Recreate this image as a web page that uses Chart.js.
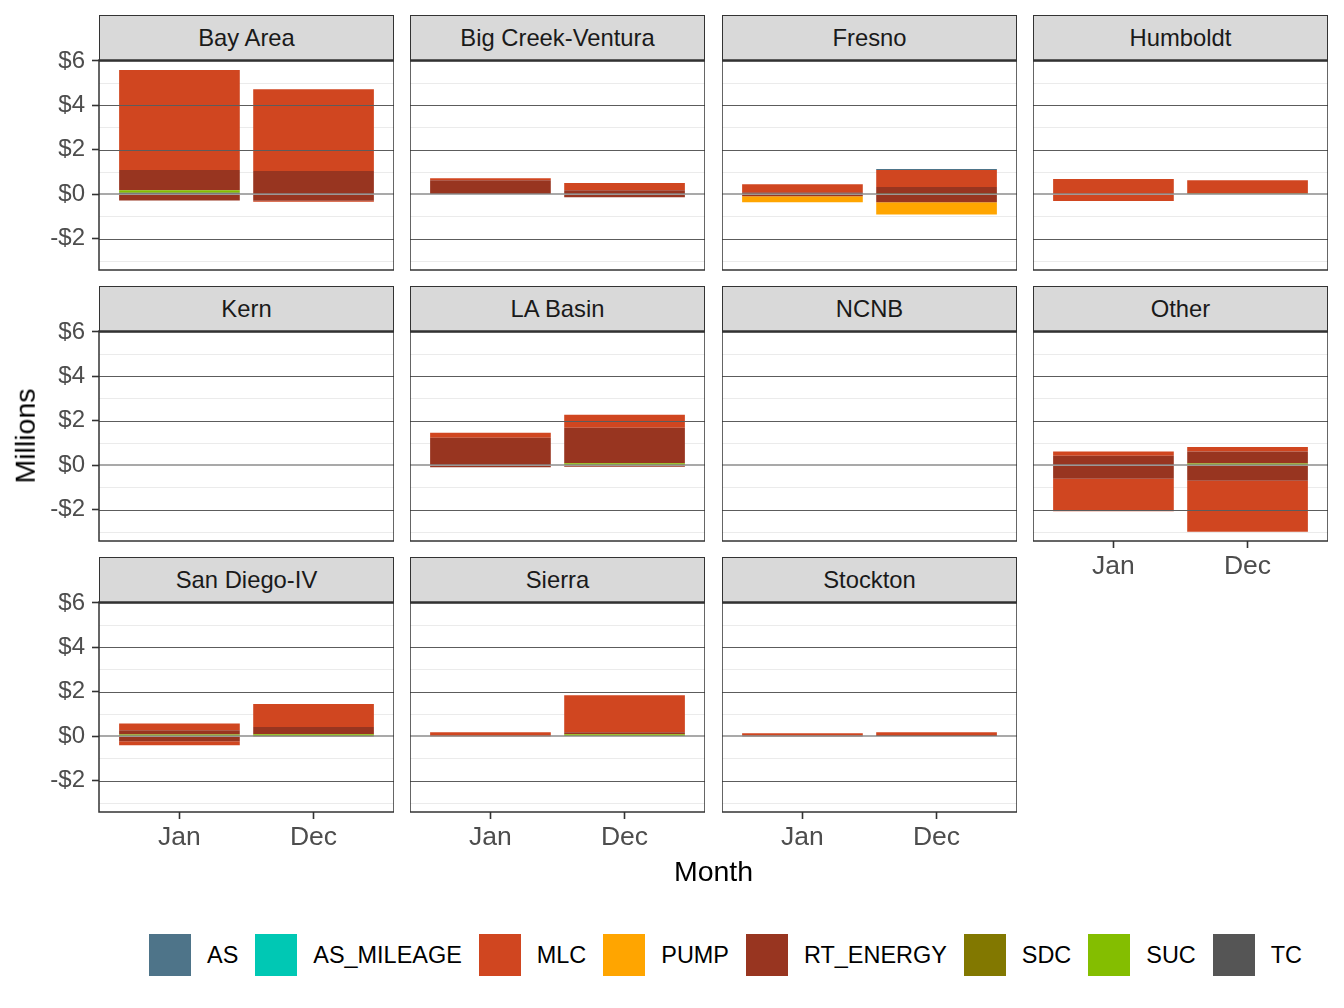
<!DOCTYPE html>
<html>
<head>
<meta charset="utf-8">
<script src="https://cdn.jsdelivr.net/npm/chart.js@4.4.1/dist/chart.umd.min.js"></script>
<style>
html,body{margin:0;padding:0;background:#fff;}
#root{position:relative;width:1344px;height:1008px;overflow:hidden;font-family:"Liberation Sans",Arial,Helvetica,sans-serif;}
.strip{position:absolute;box-sizing:border-box;background:#d9d9d9;border:1.5px solid #333;color:#1a1a1a;font-size:23.8px;display:flex;align-items:center;justify-content:center;}
canvas{position:absolute;}
.title{position:absolute;color:#000;font-size:28.5px;white-space:nowrap;line-height:1;transform:translate(-50%,-50%);}
#legend{position:absolute;left:149px;top:934px;height:42px;display:flex;align-items:center;font-size:23.45px;color:#000;white-space:nowrap;}
.key{width:42px;height:42px;margin-right:16px;flex:none;}
.lab{margin-right:17px;}
</style>
</head>
<body>
<div id="root"></div>
<script>
// ---------------- data (values in $ millions) ----------------
const regions = ['Bay Area','Big Creek-Ventura','Fresno','Humboldt','Kern','LA Basin','NCNB','Other','San Diego-IV','Sierra','Stockton'];
const months = ['Jan','Dec'];
const components = ['AS','AS_MILEAGE','MLC','PUMP','RT_ENERGY','SDC','SUC','TC'];
const yTickValues = [-3,-2,-1,0,1,2,3,4,5,6];
const yMajorTicks = [-2,0,2,4,6];

// per region: [Jan, Dec]; positive and negative parts of each component
const AS_pos         = [[0,0],[0,0],[0,0.04],[0,0],[0,0],[0,0],[0,0],[0,0],[0,0],[0,0],[0,0]];
const AS_MILEAGE_pos = [[0,0],[0,0],[0,0],[0,0],[0,0],[0,0],[0,0],[0,0],[0,0],[0,0],[0,0]];
const MLC_pos        = [[4.49,3.68],[0.09,0.32],[0.36,0.77],[0.69,0.60],[0,0],[0.23,0.59],[0,0],[0.19,0.21],[0.31,1.03],[0.18,1.67],[0.10,0.16]];
const MLC_neg        = [[0,-0.04],[0,0],[0,0],[-0.30,0],[0,0],[0,0],[0,0],[-1.46,-2.29],[-0.18,0],[-0.03,0],[0,0]];
const PUMP_neg       = [[0,0],[0,0],[-0.27,-0.56],[0,0],[0,0],[0,0],[0,0],[0,0],[0,0],[0,0],[0,0]];
const RT_ENERGY_pos  = [[0.91,1.05],[0.64,0.16],[0.10,0.31],[0,0],[0,0],[1.21,1.60],[0,0],[0.40,0.54],[0.19,0.33],[0,0.09],[0.04,0]];
const RT_ENERGY_neg  = [[-0.28,-0.29],[0,-0.13],[-0.08,-0.35],[0,0],[0,0],[-0.09,-0.06],[0,0],[-0.60,-0.69],[-0.22,-0.03],[0,0],[-0.03,0]];
const SDC_pos        = [[0,0],[0,0],[0,0],[0,0],[0,0],[0,0],[0,0],[0,0],[0,0],[0,0],[0,0]];
const SUC_pos        = [[0.12,0],[0,0.03],[0,0.02],[0,0.04],[0,0],[0.03,0.09],[0,0],[0.03,0.08],[0.05,0.09],[0,0.09],[0,0]];
const TC_pos         = [[0.07,0],[0,0],[0,0],[0,0],[0,0],[0,0],[0,0],[0,0],[0.03,0],[0,0],[0,0.02]];

// ---------------- styles ----------------
const palette = {AS:'#4e7489',AS_MILEAGE:'#00c8b4',MLC:'#d04620',PUMP:'#ffa500',RT_ENERGY:'#983520',SDC:'#827800',SUC:'#84be00',TC:'#555555'};
const FONT = '"Liberation Sans", Arial, Helvetica, sans-serif';
const colX = [99,410,722,1033];
const panelTop = [60,331,602];
const PANEL_W = 295, PANEL_H = 210, STRIP_H = 45;
const PAD_T = 26, PAD_B_AXIS = 52, PAD_B = 26;
const Y_MIN = -3.40, Y_MAX = 6.04, X_MIN = 0.4, X_MAX = 2.6;

const posSeries = {AS:AS_pos, AS_MILEAGE:AS_MILEAGE_pos, MLC:MLC_pos, RT_ENERGY:RT_ENERGY_pos, SDC:SDC_pos, SUC:SUC_pos, TC:TC_pos};
const negSeries = {MLC:MLC_neg, PUMP:PUMP_neg, RT_ENERGY:RT_ENERGY_neg};
// ggplot stacking: last factor level nearest zero
const stackOrder = components.slice().reverse();

Chart.defaults.font.family = FONT;

const root = document.getElementById('root');

const panelDecor = {
  id:'panelDecor',
  afterDatasetsDraw(chart){
    const {ctx, chartArea:a} = chart;
    const y = chart.scales.y;
    ctx.save();
    yMajorTicks.forEach(v=>{
      const py = Math.round(y.getPixelForValue(v));
      ctx.beginPath();
      if (v === 0) { ctx.strokeStyle='rgba(120,120,120,0.85)'; ctx.lineWidth=1.6; ctx.moveTo(a.left,py); ctx.lineTo(a.right,py); }
      else { ctx.strokeStyle='#5c5c5c'; ctx.lineWidth=1; ctx.moveTo(a.left,py+0.5); ctx.lineTo(a.right,py+0.5); }
      ctx.stroke();
    });
    ctx.strokeStyle='#333'; ctx.lineWidth=1.5;
    ctx.strokeRect(a.left, a.top, a.right-a.left, a.bottom-a.top);
    ctx.restore();
  }
};

function fmtMoney(v){ return v<0 ? '-$'+(-v) : '$'+v; }

regions.forEach((name, r)=>{
  const col = r % 4, row = Math.floor(r/4);
  const isLeft = col === 0;
  const isBottom = row === 2 || (row === 1 && col === 3);
  const padL = isLeft ? colX[0] : 0;
  const padB = isBottom ? PAD_B_AXIS : PAD_B;
  const left = colX[col] - padL;
  const top = panelTop[row] - PAD_T;
  const w = PANEL_W + padL, h = PANEL_H + PAD_T + padB;

  const strip = document.createElement('div');
  strip.className='strip';
  strip.style.left = colX[col]+'px';
  strip.style.top = (panelTop[row]-STRIP_H)+'px';
  strip.style.width = PANEL_W+'px';
  strip.style.height = (STRIP_H+1)+'px';
  strip.textContent = name;
  root.appendChild(strip);

  const cv = document.createElement('canvas');
  cv.width = w; cv.height = h;
  cv.style.left = left+'px'; cv.style.top = top+'px';
  cv.style.width = w+'px'; cv.style.height = h+'px';
  root.appendChild(cv);

  const datasets = [];
  stackOrder.forEach(c=>{
    [posSeries[c], negSeries[c]].forEach(src=>{
      if (!src) return;
      datasets.push({
        label:c,
        data: months.map((m,i)=>({x:i+1, y: src[r][i] === 0 ? null : src[r][i]})),
        backgroundColor: palette[c],
        borderWidth:0,
        barPercentage:0.9,
        categoryPercentage:1.0,
        stack:'s'
      });
    });
  });

  new Chart(cv, {
    type:'bar',
    data:{datasets},
    options:{
      responsive:false,
      animation:false,
      devicePixelRatio:1,
      layout:{padding:{top:PAD_T,bottom:isBottom?0:PAD_B,left:0,right:0}},
      plugins:{legend:{display:false},tooltip:{enabled:false}},
      scales:{
        x:{
          type:'linear', min:X_MIN, max:X_MAX, stacked:true, offset:false,
          afterBuildTicks:s=>{ s.ticks = months.map((m,i)=>({value:i+1})); },
          afterFit:s=>{ s.height = isBottom ? PAD_B_AXIS : 0; },
          border:{display:false},
          grid:{offset:false, drawOnChartArea:false, drawTicks:isBottom, tickLength:7, tickColor:'#333', tickWidth:1.6, color:'rgba(0,0,0,0)'},
          ticks:{display:isBottom, autoSkip:false, maxRotation:0, padding:3, color:'#4d4d4d', font:{family:FONT,size:26.5},
                 callback:v=> months[Math.round(v)-1] || ''}
        },
        y:{
          type:'linear', min:Y_MIN, max:Y_MAX, stacked:true,
          afterBuildTicks:s=>{ s.ticks = yTickValues.map(v=>({value:v})); },
          afterFit:s=>{ s.width = padL; },
          border:{display:false},
          grid:{
            offset:false,
            color:c=> (c.tick && Math.abs(c.tick.value)%2===1) ? '#ebebeb' : 'rgba(0,0,0,0)',
            lineWidth:1,
            drawTicks:isLeft, tickLength:7, tickWidth:1.6,
            tickColor:c=> (c.tick && Math.abs(c.tick.value)%2===0) ? '#333' : 'rgba(0,0,0,0)'
          },
          ticks:{display:isLeft, autoSkip:false, padding:7, color:'#4d4d4d', font:{family:FONT,size:24},
                 callback:v=> Math.abs(v)%2===0 ? fmtMoney(v) : ''}
        }
      }
    },
    plugins:[panelDecor]
  });
});

// axis titles
const xt = document.createElement('div');
xt.className='title'; xt.textContent='Month';
xt.style.left='713.5px'; xt.style.top='871px';
root.appendChild(xt);
const yt = document.createElement('div');
yt.className='title'; yt.textContent='Millions';
yt.style.left='25px'; yt.style.top='436px';
yt.style.transform='translate(-50%,-50%) rotate(-90deg)';
root.appendChild(yt);

// legend
const lg = document.createElement('div');
lg.id='legend';
components.forEach(c=>{
  const k = document.createElement('div'); k.className='key'; k.style.background=palette[c];
  const t = document.createElement('div'); t.className='lab'; t.textContent=c;
  lg.appendChild(k); lg.appendChild(t);
});
root.appendChild(lg);
</script>
</body>
</html>
